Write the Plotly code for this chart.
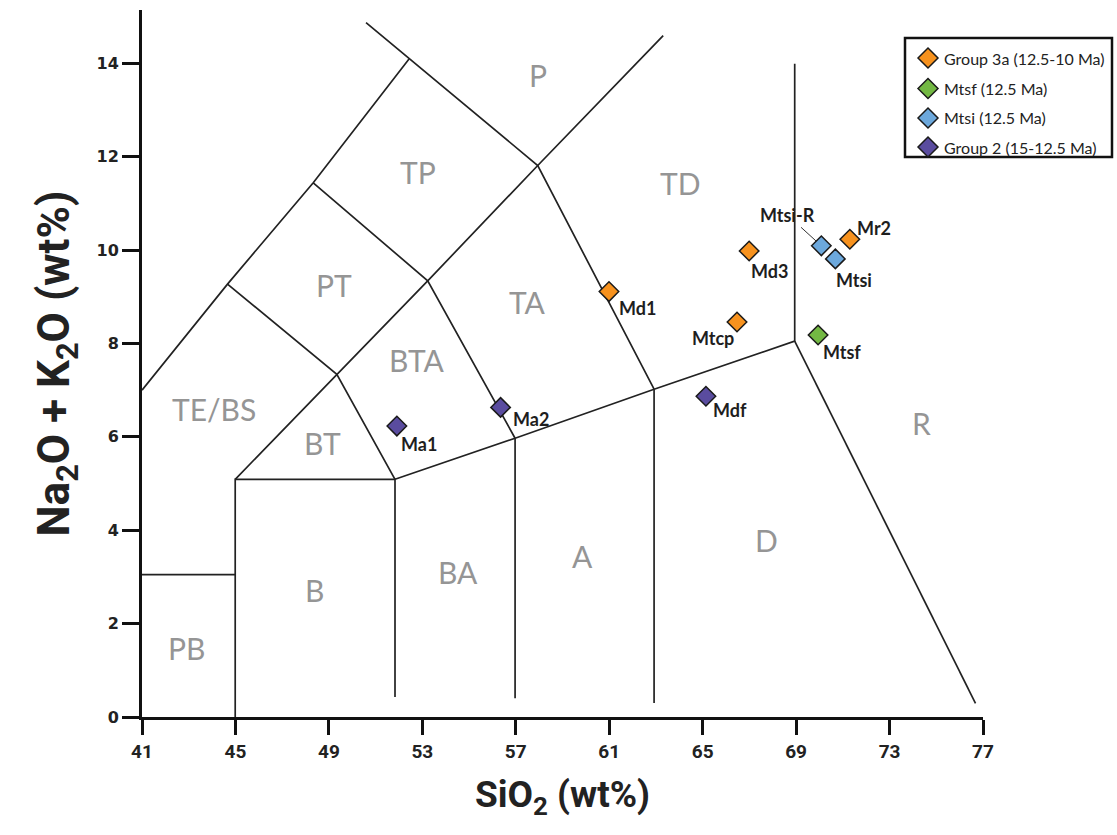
import plotly.graph_objects as go

# ---- Sample compositions (SiO2 vs total alkalis, wt%) ----
group3a_names = ["Md1", "Md3", "Mtcp", "Mr2"]
group3a_sio2 = [60.99, 66.99, 66.47, 71.30]
group3a_alk = [9.11, 9.98, 8.46, 10.23]

mtsf_names = ["Mtsf"]
mtsf_sio2 = [69.94]
mtsf_alk = [8.18]

mtsi_names = ["Mtsi-R", "Mtsi"]
mtsi_sio2 = [70.08, 70.68]
mtsi_alk = [10.09, 9.81]

group2_names = ["Ma1", "Ma2", "Mdf"]
group2_sio2 = [51.91, 56.35, 65.14]
group2_alk = [6.23, 6.63, 6.87]

# ---- TAS field boundaries (polylines, SiO2 / Na2O+K2O) ----
tas_upper_left = [(41, 7.0), (44.66, 9.27), (48.33, 11.44), (52.43, 14.09)]
tas_mid_diag = [(44.99, 5.09), (49.34, 7.34), (53.23, 9.34), (57.94, 11.81), (63.31, 14.59)]
tas_p_tp_td = [(50.59, 14.87), (57.94, 11.81), (62.92, 7.02)]
tas_te_pt_bt = [(44.66, 9.27), (49.34, 7.34), (51.83, 5.09)]
tas_pt_bta_ta = [(48.33, 11.44), (53.23, 9.34), (56.97, 5.97)]
tas_basalt_box = [(44.99, 0.0), (44.99, 5.09), (51.83, 5.09), (51.83, 0.43)]
tas_picrobasalt = [(41, 3.05), (44.99, 3.05)]
tas_lower_chain = [(51.83, 5.09), (56.97, 5.97), (62.92, 7.02), (68.94, 8.05), (68.94, 13.99)]
tas_ba_a = [(56.97, 5.97), (56.97, 0.4)]
tas_a_d = [(62.92, 7.02), (62.92, 0.3)]
tas_d_r = [(68.94, 8.05), (76.68, 0.29)]

tas_boundaries = [tas_upper_left, tas_mid_diag, tas_p_tp_td, tas_te_pt_bt, tas_pt_bta_ta,
                  tas_basalt_box, tas_picrobasalt, tas_lower_chain, tas_ba_a, tas_a_d, tas_d_r]

# ---- Field names and where they sit ----
field_names = ["P", "TP", "TD", "PT", "TA", "BTA", "TE/BS", "BT", "R", "D", "A", "BA", "B", "PB"]
field_sio2 = [57.94, 52.83, 64.07, 49.2, 57.5, 52.79, 44.1, 48.74, 74.37, 67.74, 59.87, 54.53, 48.38, 42.89]
field_alk = [13.75, 11.68, 11.43, 9.25, 8.88, 7.64, 6.59, 5.86, 6.29, 3.79, 3.44, 3.10, 2.71, 1.47]

x_ticks = [41, 45, 49, 53, 57, 61, 65, 69, 73, 77]
y_ticks = [0, 2, 4, 6, 8, 10, 12, 14]

# label offsets in pixels (dx right, dy down) from each marker
label_offsets = {
    "Ma1": (22, 18), "Ma2": (30, 12), "Mdf": (24, 14),
    "Md1": (29, 16), "Mtcp": (-24, 16), "Md3": (20, 20), "Mr2": (24, -11),
    "Mtsf": (24, 17), "Mtsi": (19, 21),
}

W, H = 1117, 835
M_L, M_R, M_T, M_B = 142, 134, 10, 118
PLOT_W = W - M_L - M_R
PLOT_H = H - M_T - M_B


def paper_x(px):
    return (px - M_L) / PLOT_W


def paper_y(py):
    return (H - M_B - py) / PLOT_H


LABEL_FONT = dict(family="Lato", size=18, color="#1e1e1e", weight="bold")
TITLE_FAMILY = "Roboto"

fig = go.Figure()

bx, by = [], []
for line in tas_boundaries:
    for px, py in line:
        bx.append(px)
        by.append(py)
    bx.append(None)
    by.append(None)
fig.add_trace(go.Scatter(x=bx, y=by, mode="lines", line=dict(color="#222", width=1.7),
                         showlegend=False, hoverinfo="skip"))

series = [
    ("Group 3a (12.5-10 Ma)", group3a_names, group3a_sio2, group3a_alk, "#F7921E"),
    ("Mtsf (12.5 Ma)", mtsf_names, mtsf_sio2, mtsf_alk, "#73B843"),
    ("Mtsi (12.5 Ma)", mtsi_names, mtsi_sio2, mtsi_alk, "#6CA8DC"),
    ("Group 2 (15-12.5 Ma)", group2_names, group2_sio2, group2_alk, "#5A4C9F"),
]
for name, names, xs, ys, color in series:
    fig.add_trace(go.Scatter(
        x=xs, y=ys, mode="markers", name=name, text=names, showlegend=False,
        marker=dict(symbol="diamond", size=15, color=color, line=dict(color="#1a1a1a", width=1.5)),
    ))

annotations = []
shapes = []
for name, fx, fy in zip(field_names, field_sio2, field_alk):
    annotations.append(dict(x=fx, y=fy, text=name, showarrow=False, xref="x", yref="y",
                            font=dict(family="Lato", size=30, color="#959595")))

for _, names, xs, ys, _ in series:
    for n, xv, yv in zip(names, xs, ys):
        if n == "Mtsi-R":
            annotations.append(dict(x=xv, y=yv, text=n, showarrow=True, arrowhead=0, arrowwidth=1,
                                    arrowcolor="#333", ax=-34, ay=-31, standoff=7,
                                    font=LABEL_FONT))
        else:
            dx, dy = label_offsets[n]
            annotations.append(dict(x=xv, y=yv, text=n, showarrow=False, xshift=dx, yshift=-dy,
                                    font=LABEL_FONT))

# ---- legend box (top right, outside the axes) ----
LEG_X0, LEG_X1, LEG_Y0, LEG_Y1 = 905, 1112, 38, 157
LEG_ROWS = [58, 88.5, 118, 147]
shapes.append(dict(type="rect", xref="paper", yref="paper",
                   x0=paper_x(LEG_X0), x1=paper_x(LEG_X1), y0=paper_y(LEG_Y1), y1=paper_y(LEG_Y0),
                   fillcolor="white", line=dict(color="#111", width=2.5), layer="above"))
for (name, _, _, _, color), row in zip(series, LEG_ROWS):
    shapes.append(dict(type="path", xref="paper", yref="paper", xsizemode="pixel", ysizemode="pixel",
                       xanchor=paper_x(928), yanchor=paper_y(row),
                       path="M -10 0 L 0 10 L 10 0 L 0 -10 Z",
                       fillcolor=color, line=dict(color="#1a1a1a", width=1.5), layer="above"))
    annotations.append(dict(xref="paper", yref="paper", x=paper_x(942), y=paper_y(row),
                            xanchor="left", yanchor="middle", text=name, showarrow=False,
                            font=dict(family="Lato", size=16, color="#222")))

fig.update_layout(
    width=W, height=H, autosize=False,
    margin=dict(l=M_L, r=M_R, t=M_T, b=M_B),
    paper_bgcolor="white", plot_bgcolor="white",
    annotations=annotations, shapes=shapes,
    showlegend=False,
    xaxis=dict(range=[41, 77], tickvals=x_ticks, showgrid=False, zeroline=False,
               showline=True, linewidth=3, linecolor="#111", ticks="outside", ticklen=15,
               tickwidth=3, tickcolor="#111",
               tickfont=dict(family=TITLE_FAMILY, size=19, color="#222", weight="bold"),
               title=dict(text="SiO<sub>2</sub> (wt%)", standoff=20,
                          font=dict(family=TITLE_FAMILY, size=37, color="#222", weight="bold"))),
    yaxis=dict(range=[0, 15.14], tickvals=y_ticks, showgrid=False, zeroline=False,
               showline=True, linewidth=3, linecolor="#111", ticks="outside", ticklen=17,
               tickwidth=3, tickcolor="#111",
               tickfont=dict(family="DejaVu Sans", size=16, color="#222", weight="bold"),
               title=dict(text="Na<sub>2</sub>O + K<sub>2</sub>O (wt%)", standoff=14,
                          font=dict(family=TITLE_FAMILY, size=44, color="#222", weight="bold"))),
)

fig.write_html("out.html")
